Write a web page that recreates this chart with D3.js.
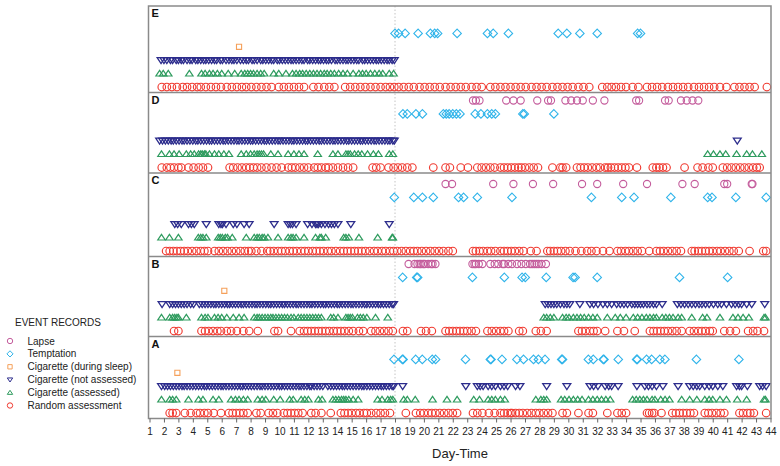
<!DOCTYPE html>
<html><head><meta charset="utf-8">
<script src="https://cdn.jsdelivr.net/npm/d3@7"></script>
<style>body{margin:0;background:#fff}svg{display:block;font-family:"Liberation Sans",Arial,sans-serif}</style>
</head><body><svg id="c" width="780" height="466"></svg>
<script>
// ---------- DATA (Day-Time values) ----------
const eventTypes = ["Lapse","Temptation","Cigarette (during sleep)","Cigarette (not assessed)","Cigarette (assessed)","Random assessment"];
const eventColors = ["#c45c9c","#30b4ea","#f5a05a","#2c2c8c","#2e9b5e","#f03a30"];
const panelNames = ["E","D","C","B","A"];
const dayTicks = d3.range(1,45);

const E_lapse = [];
const E_temptation = [18.0,18.25,18.7,19.6,20.45,20.75,20.95,22.3,24.4,24.8,25.85,29.3,29.9,30.8,32.0,34.8,35.0];
const E_sleep = [7.2];
const E_notAssessed = [1.8,2.0,2.2,2.45,2.6,2.85,3.0,3.2,3.35,3.6,3.8,3.95,4.2,4.35,4.55,4.75,4.9,5.1,5.3,5.5,5.65,5.9,6.05,6.3,6.5,6.7,6.85,7.05,7.3,7.5,7.7,7.85,8.1,8.25,8.45,8.7,8.85,9.05,9.25,9.45,9.6,9.85,10.0,10.2,10.4,10.6,10.8,10.95,11.15,11.35,11.55,11.7,11.95,12.1,12.3,12.5,12.7,12.85,13.05,13.25,13.4,13.6,13.85,14.0,14.2,14.4,14.6,14.75,14.95,15.15,15.35,15.5,15.75,15.9,16.1,16.3,16.5,16.7,16.85,17.05,17.25,17.45,17.6,17.8,17.95];
const E_assessed = [1.7,1.95,2.3,3.76,4.6,4.85,5.15,5.4,5.7,6.0,6.45,6.9,7.35,7.6,7.8,8.0,8.2,8.45,8.7,8.94,9.6,9.95,10.45,10.9,11.15,11.4,11.6,11.85,12.1,12.35,12.6,12.85,13.1,13.3,13.55,13.8,14.1,14.4,14.7,15.1,15.5,15.75,16.0,16.3,16.6,16.9,17.15,17.6,17.9];
const E_random = [1.85,2.2,2.55,2.9,3.3,3.6,3.95,4.3,4.55,4.9,5.25,5.6,5.95,6.35,6.7,7.05,7.4,7.7,8.05,8.4,8.75,9.1,9.45,9.95,10.3,10.65,11.0,11.35,11.7,12.35,12.7,13.1,13.45,13.8,14.55,14.9,15.25,15.6,15.95,16.3,16.65,17.0,17.35,17.65,17.95,18.25,18.6,18.95,19.3,19.7,20.05,20.4,20.75,21.1,21.5,21.85,22.2,22.55,22.9,23.3,23.65,24.0,24.6,24.95,25.3,25.65,26.0,26.35,26.7,27.05,27.45,27.8,28.15,28.5,28.9,29.25,29.6,29.95,30.3,30.7,31.05,31.45,32.35,32.7,33.0,33.3,33.65,34.0,34.45,34.85,35.45,35.8,36.15,36.5,36.9,37.25,37.6,37.95,38.3,38.7,39.05,39.4,39.75,40.1,40.5,40.95,41.5,41.85,42.2,42.55,42.9,43.75];

const D_lapse = [23.4,23.6,23.85,25.7,26.2,26.7,27.85,28.6,28.8,29.8,30.2,30.6,31.0,31.7,32.5,34.7,34.9,36.7,36.95,37.8,38.2,38.6,39.0];
const D_temptation = [18.55,18.85,19.45,19.9,21.35,21.55,21.75,22.0,22.25,22.5,23.55,23.95,24.4,24.7,24.95,26.85,26.95,29.0];
const D_sleep = [];
const D_notAssessed = [1.7,1.9,2.1,2.3,2.5,2.65,2.85,3.05,3.25,3.4,3.6,3.8,4.0,4.2,4.35,4.55,4.75,4.95,5.15,5.3,5.5,5.7,5.9,6.1,6.25,6.45,6.65,6.85,7.05,7.2,7.4,7.6,7.8,8.0,8.15,8.35,8.55,8.75,8.95,9.1,9.3,9.5,9.7,9.9,10.05,10.25,10.45,10.65,10.85,11.0,11.2,11.4,11.6,11.8,11.95,12.15,12.35,12.55,12.75,12.9,13.1,13.3,13.5,13.7,13.85,14.05,14.25,14.45,14.65,14.8,15.0,15.2,15.4,15.6,15.75,15.95,16.15,16.35,16.55,16.7,16.9,17.1,17.3,17.5,17.65,17.85,17.95,41.7];
const D_assessed = [1.83,2.38,2.7,3.05,3.55,3.85,4.1,4.4,4.55,4.65,4.8,4.9,5.15,5.5,5.8,6.15,6.5,7.35,7.7,8.0,8.25,8.45,8.6,8.75,8.9,9.4,9.9,10.6,11.0,11.35,11.7,12.65,13.7,14.05,14.6,14.75,14.9,15.2,15.45,15.7,16.1,16.5,16.85,17.6,17.85,39.65,40.05,40.5,40.9,41.65,42.35,42.75,43.4];
const D_random = [1.85,2.2,2.45,2.7,3.0,3.2,3.7,4.05,4.4,4.7,5.05,6.55,6.8,7.1,7.4,7.7,7.95,8.2,8.45,8.75,9.1,9.45,9.8,10.15,10.6,10.85,11.1,11.4,11.7,12.0,12.4,12.65,12.9,13.2,13.4,13.7,14.05,14.4,14.75,15.1,16.45,16.7,17.0,17.55,17.9,18.2,18.5,18.85,19.2,20.65,21.5,21.8,22.55,23.05,23.7,24.0,24.3,24.6,24.9,25.3,25.55,25.8,26.05,26.3,26.55,26.75,27.0,27.3,27.6,27.9,28.9,29.45,29.6,29.85,30.6,30.85,31.1,31.35,31.65,31.95,32.2,32.55,32.75,32.95,33.2,33.45,33.7,33.95,34.2,34.75,35.85,36.1,36.3,36.55,36.8,38.05,38.95,39.3,39.7,40.0,40.7,41.0,41.3,41.6,41.9,42.2,42.5,42.8,43.05,43.25];

const C_lapse = [21.5,21.95,24.8,26.2,27.55,28.95,30.95,32.0,33.8,35.45,37.9,38.75,40.8,41.0,42.7,42.75];
const C_temptation = [17.95,19.3,19.9,20.65,22.4,22.75,23.7,26.1,31.6,33.7,34.55,37.1,39.65,39.95,41.6,43.7];
const C_sleep = [];
const C_notAssessed = [2.75,2.95,3.2,3.7,3.9,4.1,4.93,5.8,5.95,6.05,6.3,6.8,7.05,7.55,7.9,9.63,10.6,10.75,10.9,11.15,11.95,12.25,12.5,12.6,12.7,12.9,13.15,13.4,13.6,13.8,14.05,14.94,17.6];
const C_assessed = [1.83,2.38,3.0,4.38,4.55,4.7,4.93,5.76,5.9,6.04,6.25,6.4,6.73,7.7,8.25,8.45,8.6,8.8,8.94,9.2,9.9,10.6,10.8,10.94,11.15,11.7,12.5,12.8,12.9,13.2,14.45,14.6,14.8,15.5,16.8,17.8,17.85];
const C_random = [2.15,2.4,2.65,2.9,3.15,3.4,3.65,3.95,4.25,4.55,4.8,5.05,5.5,5.8,6.1,6.4,6.7,7.0,7.3,7.6,7.85,8.05,8.4,8.75,9.15,9.35,9.6,9.9,10.15,10.4,10.7,10.95,11.2,11.5,11.75,12.0,12.3,12.55,12.8,13.05,13.35,13.6,13.9,14.2,14.45,14.7,14.95,15.2,15.45,15.7,15.95,16.25,16.55,16.8,17.1,17.35,17.65,17.9,18.15,18.45,18.75,19.05,19.3,19.55,19.85,20.15,20.45,20.75,21.05,21.35,21.7,22.0,23.4,23.6,23.85,24.1,24.4,24.65,24.95,25.3,25.55,25.8,26.05,26.3,26.6,26.9,27.4,27.8,28.55,28.75,29.0,29.25,29.5,29.8,30.1,30.5,30.9,31.3,31.6,31.95,32.4,32.85,33.4,33.65,33.95,34.2,34.5,34.8,35.1,35.6,36.1,36.35,36.6,36.9,37.2,37.5,37.8,38.55,38.75,39.0,39.25,39.5,39.75,40.0,40.3,40.55,40.85,41.15,41.45,41.8,42.55,43.5,43.7];

const B_lapse = [18.94,19.35,19.55,19.7,19.8,19.95,20.05,20.3,20.5,20.6,20.8,23.36,23.5,23.6,23.8,24.05,24.6,24.9,25.15,25.45,25.55,25.85,26.1,26.45,26.75,27.05,27.35,27.5,27.65,27.8,27.95,28.15,28.45];
const B_temptation = [18.53,19.5,19.57,23.36,25.57,26.8,27.02,28.47,30.33,30.47,32.0,37.7,41.03];
const B_sleep = [6.18];
const B_notAssessed = [1.87,2.4,2.6,2.8,3.0,3.2,3.4,3.6,3.85,4.05,4.45,4.65,4.85,5.05,5.25,5.45,5.6,5.8,6.0,6.2,6.4,6.55,6.75,6.95,7.15,7.35,7.5,7.7,7.9,8.1,8.3,8.45,8.65,8.85,9.05,9.25,9.4,9.6,9.8,10.0,10.2,10.35,10.55,10.75,10.95,11.15,11.3,11.5,11.7,11.9,12.1,12.25,12.45,12.65,12.85,13.05,13.2,13.4,13.6,13.8,14.0,14.15,14.35,14.55,14.75,14.95,15.1,15.3,15.5,15.7,15.9,16.05,16.25,16.45,16.65,16.85,17.0,17.2,17.4,17.6,17.8,17.9,28.4,28.6,28.8,29.0,29.2,29.45,29.7,29.9,30.1,30.8,31.5,31.75,32.05,32.4,32.7,33.0,33.35,33.6,33.85,34.1,34.4,34.6,34.8,35.0,35.2,35.45,35.65,35.9,36.1,36.5,37.55,37.8,38.05,38.3,38.55,38.8,39.05,39.25,39.5,39.75,40.05,40.35,40.6,40.95,41.3,41.55,41.8,42.0,42.35,42.7,43.6];
const B_assessed = [1.83,2.4,2.6,2.75,2.9,3.0,3.55,4.6,4.85,5.05,5.5,5.75,6.0,6.35,6.8,7.2,7.55,8.25,8.45,8.6,8.8,9.0,9.2,9.4,9.55,9.75,9.95,10.15,10.35,10.55,10.8,11.0,11.3,11.5,11.7,11.9,12.1,12.3,12.5,12.7,12.9,13.55,13.75,14.05,14.6,14.75,14.9,15.05,15.4,15.6,15.8,16.05,16.65,17.5,28.3,28.5,28.75,29.0,29.6,29.85,30.05,30.35,30.6,30.85,31.1,31.4,31.7,32.0,32.7,33.25,33.6,34.0,34.5,34.8,35.1,35.4,35.65,35.9,36.1,36.5,36.75,37.0,37.25,37.6,37.85,38.55,39.3,39.6,40.5,41.4,41.75,42.1,42.5,43.55,43.65];
const B_random = [2.7,3.0,4.6,4.85,5.1,5.4,5.7,5.95,6.35,6.65,7.05,7.5,7.9,8.5,9.65,9.9,10.8,11.4,11.7,11.95,12.2,12.45,12.7,12.95,13.2,13.45,13.75,14.0,14.25,14.5,14.8,15.1,15.5,15.8,16.35,16.65,16.95,17.25,17.55,17.85,18.55,18.85,19.8,20.15,20.55,21.5,21.75,22.0,22.25,22.5,22.75,23.0,23.3,23.6,24.4,24.7,25.0,25.3,25.55,25.85,26.6,26.85,27.75,28.1,28.5,30.7,30.95,31.2,31.5,31.75,32.0,32.55,33.4,33.85,34.6,35.65,35.9,36.15,36.4,36.65,36.9,37.2,37.5,37.85,38.4,38.7,39.0,39.25,39.5,39.8,40.0,40.8,41.2,41.6,42.45,42.8,43.1,43.55];

const A_lapse = [];
const A_temptation = [17.93,18.51,18.56,19.43,19.89,20.58,20.81,22.88,24.6,24.65,25.41,26.44,26.9,27.59,27.93,28.39,29.54,29.6,31.39,31.73,32.42,32.47,33.46,34.73,34.78,35.42,35.77,36.34,36.69,38.87,41.81];
const A_sleep = [2.93];
const A_notAssessed = [1.83,2.05,2.25,2.45,2.65,2.85,3.05,3.25,3.4,3.6,3.8,4.0,4.2,4.4,4.6,4.8,4.95,5.15,5.35,5.55,5.75,5.95,6.1,6.3,6.5,6.7,6.9,7.1,7.3,7.45,7.65,7.85,8.05,8.25,8.45,8.65,8.8,9.0,9.2,9.4,9.6,9.8,10.0,10.15,10.35,10.55,10.75,10.95,11.15,11.35,11.5,11.7,11.9,12.1,12.2,12.4,12.6,12.8,13.0,13.35,13.55,13.75,13.95,14.15,14.35,14.5,14.7,14.9,15.1,15.3,15.5,15.7,15.85,16.05,16.25,16.45,16.65,16.85,17.05,17.2,17.4,17.6,17.8,17.9,18.53,22.9,23.7,23.9,24.1,24.45,24.7,24.95,25.3,25.55,25.8,26.35,26.65,28.5,29.9,31.5,31.75,32.05,32.55,32.8,33.0,33.45,34.75,35.3,35.55,35.8,36.1,36.55,37.6,38.4,38.65,38.9,39.1,39.45,39.75,40.0,40.35,40.7,41.65,41.85,42.0,42.4,43.25,43.45,43.7];
const A_assessed = [1.83,2.4,2.6,2.85,3.7,4.4,4.7,5.4,5.8,6.65,6.95,7.2,7.5,7.8,8.5,8.8,9.05,9.6,10.05,10.7,10.95,11.5,11.75,12.0,12.7,12.95,13.7,13.9,14.1,14.3,14.45,14.6,14.8,15.1,15.45,16.8,17.1,17.5,17.7,17.85,18.6,18.85,19.4,20.6,21.6,22.3,23.45,23.85,24.45,24.7,24.95,25.3,25.6,27.75,28.1,28.3,28.5,29.5,29.75,30.05,30.35,30.65,30.95,31.4,31.7,32.0,32.3,32.6,32.9,34.45,34.7,34.95,35.2,35.45,35.8,36.0,36.4,36.7,37.0,37.85,38.4,38.9,39.45,39.75,40.0,40.5,40.95,41.7,42.35,43.55,43.65];
const A_random = [2.4,2.6,2.85,3.45,3.85,4.25,4.5,4.8,5.05,5.45,5.95,6.5,6.75,7.0,7.25,7.5,7.8,8.4,8.7,9.25,9.55,9.85,10.3,10.55,10.8,11.05,11.3,11.6,12.2,12.5,12.9,13.55,14.25,14.5,14.75,15.0,15.3,15.55,15.85,16.05,16.35,16.7,17.0,17.3,17.65,18.75,19.45,19.75,20.0,20.3,20.55,20.8,21.1,21.4,21.7,22.0,22.3,23.4,23.7,24.05,24.5,24.9,25.3,25.55,25.8,26.0,26.1,26.35,26.6,26.85,27.15,27.45,27.75,28.0,28.3,28.6,28.9,29.6,29.9,30.7,31.4,31.7,32.7,33.4,33.7,34.0,35.45,35.6,35.8,35.95,36.45,37.2,37.45,37.7,37.95,38.2,38.45,38.7,39.45,39.7,39.95,40.25,40.55,40.8,41.85,42.1,42.4,42.6,42.85,43.7];

// ---------- BUILD ----------
const panelData = [
  [E_lapse,E_temptation,E_sleep,E_notAssessed,E_assessed,E_random],
  [D_lapse,D_temptation,D_sleep,D_notAssessed,D_assessed,D_random],
  [C_lapse,C_temptation,C_sleep,C_notAssessed,C_assessed,C_random],
  [B_lapse,B_temptation,B_sleep,B_notAssessed,B_assessed,B_random],
  [A_lapse,A_temptation,A_sleep,A_notAssessed,A_assessed,A_random]
];

const plotL = 148.5, plotR = 771;
const panelEdges = [6, 92.5, 173, 256.5, 336.5, 418.5];
const svg = d3.select('#c');
const x = d3.scaleLinear().domain([1,44]).range([149.5,770.5]);
// row offset above panel bottom: row index 0 = random ... 5 = lapse
const rowOff = d3.scaleLinear().domain([0,5]).range([5.5,72.5]);
const markSize = [3.6,3.7,3.2,3.9,3.7,3.8];
const markStroke = [1.1,1.1,1.1,1.3,1.2,1.15];

function shape(type, s){
  switch(type){
    case 0: case 5: return d3.symbol(d3.symbolCircle, Math.PI*s*s)();
    case 1: return `M0,${-s*1.15}L${s*1.15},0L0,${s*1.15}L${-s*1.15},0Z`;
    case 2: return `M${-s*0.8},${-s*0.8}h${s*1.6}v${s*1.6}h${-s*1.6}Z`;
    case 3: return `M${-s},${-s*0.65}L${s},${-s*0.65}L0,${s*0.85}Z`;
    case 4: return `M${-s},${s*0.65}L${s},${s*0.65}L0,${-s*0.85}Z`;
  }
}

// dotted line at day 18
svg.append('line').attr('x1',x(18)).attr('x2',x(18))
  .attr('y1',panelEdges[0]).attr('y2',panelEdges[5])
  .attr('stroke','#c4c4c4').attr('stroke-width',1).attr('stroke-dasharray','1.5,2');

panelNames.forEach((name,pi)=>{
  const top = panelEdges[pi], bottom = panelEdges[pi+1];
  const g = svg.append('g');
  panelData[pi].forEach((vals,ti)=>{
    const y = bottom - rowOff(5 - ti);
    g.selectAll(null).data(vals).enter().append('path')
      .attr('d', shape(ti, markSize[ti]))
      .attr('transform', d=>`translate(${x(d)},${y})`)
      .attr('fill','none').attr('stroke',eventColors[ti]).attr('stroke-width',markStroke[ti]);
  });
  svg.append('text').attr('x',plotL+3).attr('y',top+11)
    .attr('font-size',11).attr('font-weight','bold').attr('fill','#111').text(name);
  if(pi>0) svg.append('line').attr('x1',plotL).attr('x2',plotR).attr('y1',top).attr('y2',top)
    .attr('stroke','#8a8a8a').attr('stroke-width',1.5);
});

// frame
svg.append('rect').attr('x',plotL).attr('y',panelEdges[0]).attr('width',plotR-plotL)
  .attr('height',panelEdges[5]-panelEdges[0]).attr('fill','none').attr('stroke','#8a8a8a').attr('stroke-width',1.5);

// axis
const axis = d3.axisBottom(x).tickValues(dayTicks).tickSize(4).tickFormat(d3.format('d'));
const ag = svg.append('g').attr('transform',`translate(0,${panelEdges[5]})`).call(axis);
ag.select('.domain').remove();
ag.selectAll('.tick line').attr('stroke','#666');
ag.selectAll('.tick text').attr('font-size',10).attr('fill','#222').attr('dy','0.95em')
  .attr('font-family','"Liberation Sans",Arial,sans-serif');

svg.append('text').attr('x',460).attr('y',458).attr('text-anchor','middle')
  .attr('font-size',13).attr('fill','#222').text('Day-Time');

// legend
const lg = svg.append('g');
lg.append('text').attr('x',15).attr('y',326).attr('font-size',10).attr('fill','#222').text('EVENT RECORDS');
eventTypes.forEach((t,i)=>{
  const cy = 341 + i*12.9;
  lg.append('path').attr('d',shape(i,2.7)).attr('transform',`translate(10,${cy})`)
    .attr('fill','none').attr('stroke',eventColors[i]).attr('stroke-width',1);
  lg.append('text').attr('x',27.5).attr('y',cy+3.5).attr('font-size',10).attr('fill','#222').text(t);
});
</script></body></html>
